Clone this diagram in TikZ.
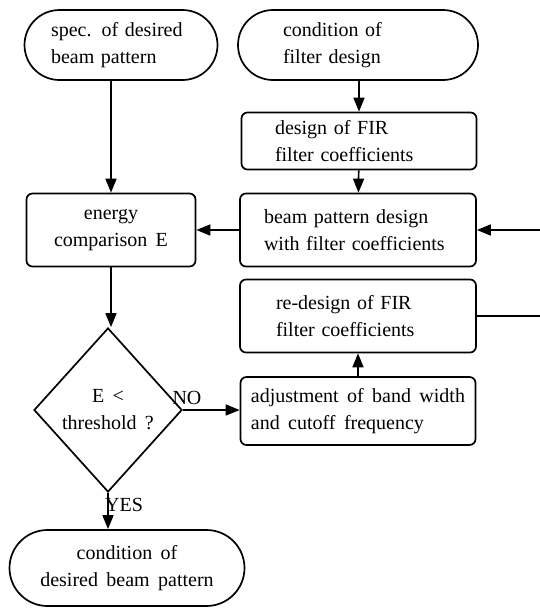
\documentclass[tikz,border=0pt]{standalone}
\usepackage{fontspec}
\setmainfont{Liberation Serif}
\usetikzlibrary{shapes.geometric,shapes.misc,arrows.meta}
\newcommand\chartfont{\fontsize{20}{27}\selectfont\spaceskip=0.42em\relax}
\begin{document}
\begin{tikzpicture}[x=1pt,y=-1pt,
  every node/.style={font=\chartfont},
  term/.style={draw,rounded rectangle,line width=1.7pt,align=left,inner sep=0pt},
  proc/.style={draw,rounded corners=6pt,line width=1.7pt,align=left,inner sep=0pt},
  test/.style={draw,diamond,line width=1.7pt,align=center,inner sep=0pt},
  flow/.style={line width=1.7pt,-{Triangle[length=14pt,width=11pt]}}]

\clip (0,0) rectangle (540,608);

\node[term,minimum width=193pt,minimum height=70pt,text width=140pt] (spec) at (121,45) {spec. of desired\\beam pattern};
\node[term,minimum width=240pt,minimum height=70pt,text width=150pt] (cond) at (358,45) {condition of\\filter design};
\node[proc,minimum width=235pt,minimum height=57pt,text width=168pt] (fir) at (359,141) {design of FIR\\filter coefficients};
\node[proc,minimum width=236pt,minimum height=73pt,text width=188pt] (beam) at (358,230) {beam pattern design\\with filter coefficients};
\node[proc,minimum width=169pt,minimum height=73pt,align=center] (energy) at (111,230) {energy\\comparison E};
\node[proc,minimum width=236pt,minimum height=73pt,text width=164pt] (redesign) at (358,316) {re-design of FIR\\filter coefficients};
\node[proc,minimum width=235pt,minimum height=68pt] (adjust) at (358,411) {adjustment of band width\\and cutoff frequency};
\node[test,minimum width=148pt,minimum height=164pt] (test) at (108,410) {E <\\threshold ?};
\node[term,minimum width=235pt,minimum height=76pt,align=center] (final) at (127,568) {condition of\\desired beam pattern};

\node (no) at (187,398) {NO};
\node (yes) at (124,505) {YES};

\draw[flow] (spec.south -| energy.north) -- (energy.north);
\draw[flow] (cond.south -| fir.north) -- (fir.north);
\draw[flow] (fir) -- (beam);
\draw[flow] (beam) -- (energy);
\draw[flow] (energy.south) -- (test.north -| energy.south);
\draw[flow] (test.east) -- (test.east -| adjust.west);
\draw[flow] (adjust) -- (redesign);
\draw[flow] (redesign.east) -- ++(80,0) |- (beam.east);
\draw[flow] (test.south) -- (final.north -| test.south);

\end{tikzpicture}
\end{document}
